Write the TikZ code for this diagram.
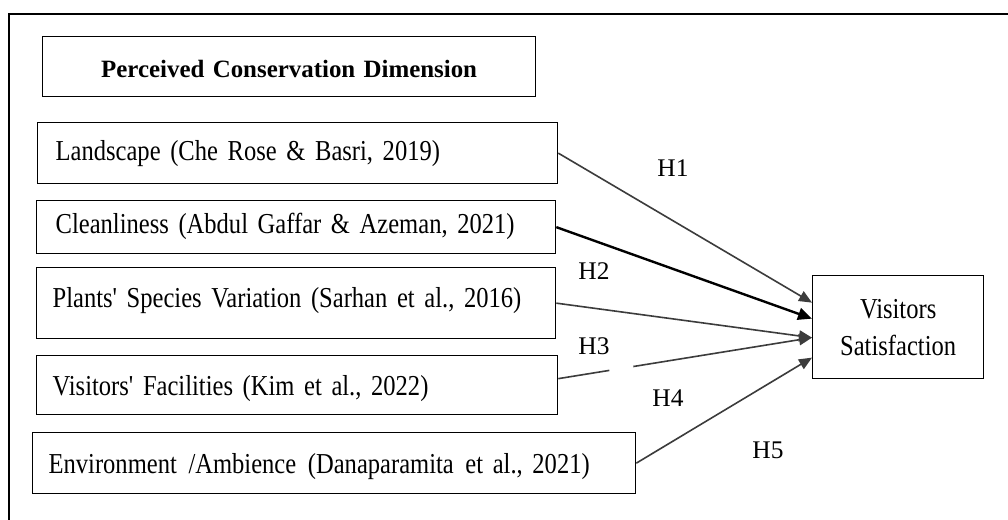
\documentclass[tikz,border=0pt]{standalone}
\usepackage{fontspec}
\setmainfont{Liberation Serif}
\newfontfamily\condfont{Liberation Serif}[FakeStretch=0.85]
\usetikzlibrary{arrows.meta,calc}
\tikzset{
  frameline/.style={line width=2.2bp, black},
  varbox/.style={draw=black, line width=1.3bp, inner ysep=0, anchor=north west, align=left,
    font=\condfont\fontsize{29}{36}\selectfont},
  titlebox/.style={draw=black, line width=1.3bp, inner sep=0, anchor=north west, align=center,
    font=\bfseries\fontsize{25}{30}\selectfont},
  outbox/.style={draw=black, line width=1.3bp, inner sep=0, anchor=north west, align=center,
    font=\condfont\fontsize{29}{37}\selectfont},
  hyp/.style={inner sep=0, font=\fontsize{25.5}{28}\selectfont},
  link/.style={draw={rgb,255:red,60;green,60;blue,60}, line width=1.6bp,
    -{Triangle[length=13bp,width=11bp]}},
  boldlink/.style={draw=black, line width=2.4bp, -{Triangle[length=14bp,width=12bp]}},
}
\begin{document}
\begin{tikzpicture}[x=1bp,y=-1bp]
\useasboundingbox (0,0) rectangle (1008,520);
\fill[white] (0,0) rectangle (1008,520);
% outer frame (only top and left edges visible)
\coordinate (fTL) at (9,14);
\coordinate (fTR) at (1008,14);
\coordinate (fBL) at (9,520);
\draw[frameline] (fTR) -- (fTL) -- (fBL);

\node[titlebox, text width=493bp, text height=41bp, text depth=19bp] (title) at (42,36)
  {Perceived Conservation Dimension};

\node[varbox, inner xsep=18bp, text width=484bp, text height=38bp, text depth=23bp] (land) at (37,122)
  {\mbox{Landscape (Che Rose \& Basri, 2019)}};
\node[varbox, inner xsep=19bp, text width=481bp, text height=33bp, text depth=20bp] (clean) at (36,200)
  {\mbox{Cleanliness (Abdul Gaffar \& Azeman, 2021)}};
\node[varbox, inner xsep=16bp, text width=487bp, text height=40bp, text depth=31bp] (plant) at (36,267)
  {\mbox{Plants' Species Variation (Sarhan et al., 2016)}};
\node[varbox, inner xsep=16bp, text width=489bp, text height=40bp, text depth=19bp] (fac) at (36,355)
  {\mbox{Visitors' Facilities (Kim et al., 2022)}};
\node[varbox, inner xsep=16bp, text width=571bp, text height=41bp, text depth=20bp] (env) at (32,432)
  {\mbox{Environment\hspace{2bp} /Ambience\hspace{2bp} (Danaparamita\hspace{2bp} et al., 2021)}};

\node[outbox, minimum width=171bp, minimum height=103bp] (vs) at (812,275)
  {Visitors\\Satisfaction};

\draw[link] (land.east) -- ($(vs.west)+(0,-24.5)$);
\draw[boldlink] (clean.east) -- ($(vs.west)+(0,-8.5)$);
\draw[link] (plant.east) -- ($(vs.west)+(0,10.5)$);
\draw[link, dash pattern=on 51.7bp off 24.3bp on 400bp off 0bp] ($(fac.east)+(0,-6.5)$) -- ($(vs.west)+(0,10.5)$);
\draw[link] (env.east) -- ($(vs.west)+(0,30.5)$);

\node[hyp] (h1) at (673,168) {H1};
\node[hyp] (h2) at (594,271) {H2};
\node[hyp] (h3) at (594,346) {H3};
\node[hyp] (h4) at (668,398) {H4};
\node[hyp] (h5) at (768,450) {H5};
\end{tikzpicture}
\end{document}
